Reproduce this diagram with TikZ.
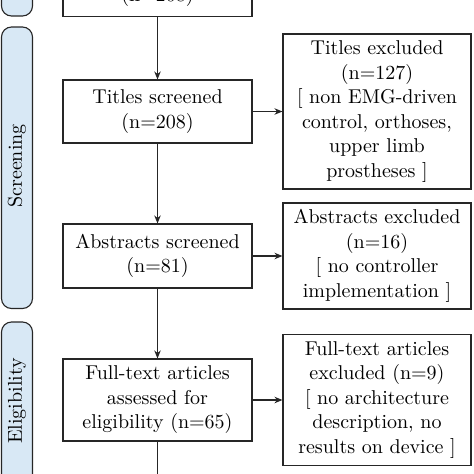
\documentclass[tikz,border=0pt]{standalone}
\usepackage{fontspec}
\setmainfont{lmroman10-regular.otf}
\usetikzlibrary{arrows.meta}
\definecolor{panelfill}{HTML}{D8E8F5}
\definecolor{linegray}{HTML}{262626}
\tikzset{
  box/.style={draw=linegray, line width=1.1pt, rectangle, align=center, inner sep=0pt,
              font=\fontsize{20}{24.5}\selectfont, text=black},
  panel/.style={draw=linegray, line width=1.1pt, fill=panelfill, rounded corners=10pt},
  paneltext/.style={rotate=90, font=\fontsize{20}{24}\selectfont, text=black, inner sep=0pt},
  arr/.style={draw=linegray, line width=1.1pt, -{Stealth[length=8pt,width=6.5pt]}},
  plain/.style={draw=linegray, line width=1.1pt}
}
\begin{document}
\begin{tikzpicture}[x=1pt,y=-1pt]
\useasboundingbox (0,0) rectangle (474,474);
\clip (0,0) rectangle (474,474);
% side panels
\path[panel] (1.5,-120) rectangle (32.5,16);
\path[panel] (1.5,27) rectangle (32.5,308.5);
\path[panel] (1.5,322) rectangle (32.5,600);
\node[paneltext] (pscr) at (17,166) {Screening};
\node[paneltext] (pelig) at (17,401) {Eligibility};
% boxes
\node[box, minimum width=189pt, minimum height=100pt, anchor=south] (top) at (157.5,17) {};
\node[font=\fontsize{20}{24.5}\selectfont, anchor=base, inner sep=0pt] (toptext) at (157.5,1.5) {(n=208)};
\node[box, minimum width=189pt, minimum height=63pt] (ts) at (157.5,111.5) {Titles screened\\(n=208)};
\node[box, minimum width=188pt, minimum height=155pt] (te) at (377,111.5) {Titles excluded\\(n=127)\\{[} non EMG-driven\\control, orthoses,\\upper limb\\prostheses ]};
\node[box, minimum width=189pt, minimum height=64pt] (as) at (157.5,256) {Abstracts screened\\(n=81)};
\node[box, minimum width=188pt, minimum height=106pt] (ae) at (377,256) {Abstracts excluded\\(n=16)\\{[} no controller\\implementation ]};
\node[box, minimum width=189pt, minimum height=82pt] (ft) at (157.5,400) {Full-text articles\\assessed for\\eligibility (n=65)};
\node[box, minimum width=188pt, minimum height=131pt] (fe) at (377,400) {Full-text articles\\excluded (n=9)\\{[} no architecture\\description, no\\results on device ]};
\coordinate (bottomend) at (157.5,490);
% connectors
\draw[arr] (top.south) -- (ts.north);
\draw[arr] (ts.south) -- (as.north);
\draw[arr] (as.south) -- (ft.north);
\draw[plain] (ft.south) -- (bottomend);
\draw[arr] (ts.east) -- (te.west);
\draw[arr] (as.east) -- (ae.west);
\draw[arr] (ft.east) -- (fe.west);
\end{tikzpicture}
\end{document}
